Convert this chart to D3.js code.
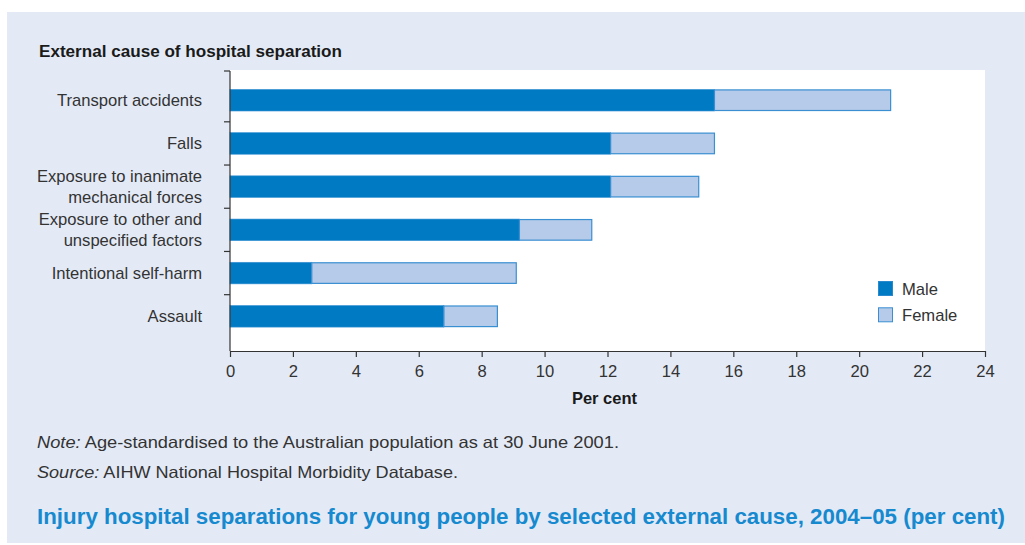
<!DOCTYPE html>
<html>
<head>
<meta charset="utf-8">
<script src="https://cdn.jsdelivr.net/npm/d3@7"></script>
<style>
  html, body { margin: 0; padding: 0; background: #ffffff; }
  svg { display: block; font-family: "Liberation Sans", Arial, Helvetica, sans-serif; }
</style>
</head>
<body>
<svg id="chart" width="1025" height="545"></svg>
<script>
// Injury hospital separations for young people, 2004–05 (per cent)
const causes = [
  ["Transport accidents"],
  ["Falls"],
  ["Exposure to inanimate", "mechanical forces"],
  ["Exposure to other and", "unspecified factors"],
  ["Intentional self-harm"],
  ["Assault"]
];
const male   = [15.4, 12.1, 12.1, 9.2, 2.6, 6.8];
const female = [5.6, 3.3, 2.8, 2.3, 6.5, 1.7];
const xTicks = [0, 2, 4, 6, 8, 10, 12, 14, 16, 18, 20, 22, 24];
const seriesNames = ["Male", "Female"];

const colors = { Male: "#007bc3", Female: "#b5cbe9" };
const femaleStroke = "#3a8fd2";
const textColor = "#333333";
const fs = 16.6;

const svg = d3.select("#chart");

// panel background
svg.append("rect").attr("x", 7).attr("y", 12).attr("width", 1018).attr("height", 531)
  .attr("fill", "#e3eaf6");

const plot = { left: 230, right: 985, top: 70, bottom: 351 };

// white plotting area
svg.append("rect")
  .attr("x", plot.left).attr("y", plot.top)
  .attr("width", plot.right - plot.left).attr("height", plot.bottom - plot.top)
  .attr("fill", "#ffffff");

const keys = causes.map(c => c.join(" "));
const x = d3.scaleLinear().domain([0, 24]).range([plot.left, plot.right]);
const y = d3.scaleBand().domain(keys).range([78.6, 337.9]).paddingInner(0.5).paddingOuter(0.25);

const rows = keys.map((k, i) => ({ key: k, lines: causes[i], male: male[i], female: female[i] }));

// bars
const g = svg.append("g");
g.selectAll("rect.male").data(rows).join("rect")
  .attr("class", "male")
  .attr("x", x(0))
  .attr("y", d => y(d.key))
  .attr("width", d => x(d.male) - x(0))
  .attr("height", y.bandwidth())
  .attr("fill", colors.Male)
  .attr("stroke", "#3d94d4")
  .attr("stroke-width", 0.6);

g.selectAll("rect.female").data(rows).join("rect")
  .attr("class", "female")
  .attr("x", d => x(d.male))
  .attr("y", d => y(d.key) + 0.5)
  .attr("width", d => x(d.male + d.female) - x(d.male))
  .attr("height", y.bandwidth() - 1)
  .attr("fill", colors.Female)
  .attr("stroke", femaleStroke)
  .attr("stroke-width", 1.2);

// x axis
const xAxis = svg.append("g")
  .attr("transform", `translate(0,${plot.bottom})`)
  .call(d3.axisBottom(x).tickValues(xTicks).tickFormat(d3.format("d")).tickSize(6).tickSizeOuter(0));
xAxis.select(".domain").attr("stroke", "#333").attr("stroke-width", 1.2);
xAxis.selectAll(".tick line").attr("stroke", "#333").attr("stroke-width", 1.2);
xAxis.selectAll(".tick text")
  .attr("y", 14).attr("dy", "0.71em")
  .attr("fill", textColor).attr("font-size", fs)
  .attr("font-family", "Liberation Sans, Arial, sans-serif");

// y axis line with boundary ticks between categories
const yAxisG = svg.append("g");
yAxisG.append("line")
  .attr("x1", plot.left).attr("x2", plot.left)
  .attr("y1", plot.top + 1).attr("y2", plot.bottom)
  .attr("stroke", "#333").attr("stroke-width", 1.2);
const step = y.step();
const boundaries = [plot.top + 1].concat(keys.slice(1).map(k => y(k) - (step - y.bandwidth()) / 2));
yAxisG.selectAll("line.tick").data(boundaries).join("line")
  .attr("class", "tick")
  .attr("x1", plot.left - 6).attr("x2", plot.left)
  .attr("y1", d => d).attr("y2", d => d)
  .attr("stroke", "#333").attr("stroke-width", 1.2);

// category labels
const labels = svg.append("g")
  .attr("font-size", fs).attr("fill", textColor).attr("text-anchor", "end");
rows.forEach(d => {
  const cy = y(d.key) + y.bandwidth() / 2;
  const n = d.lines.length;
  d.lines.forEach((line, j) => {
    labels.append("text")
      .attr("x", 202)
      .attr("y", cy + (j - (n - 1) / 2) * 21.5)
      .attr("dy", "0.35em")
      .text(line);
  });
});

// axis titles
svg.append("text")
  .attr("x", 39).attr("y", 51).attr("dy", "0.35em")
  .attr("font-size", 16).attr("font-weight", "bold").attr("fill", "#1a1a1a")
  .attr("textLength", 303).attr("lengthAdjust", "spacingAndGlyphs")
  .text("External cause of hospital separation");

svg.append("text")
  .attr("x", 604.5).attr("y", 398).attr("dy", "0.35em")
  .attr("text-anchor", "middle")
  .attr("font-size", 16.5).attr("font-weight", "bold").attr("fill", "#1a1a1a")
  .text("Per cent");

// legend
const legend = svg.append("g").attr("transform", "translate(878,281)");
seriesNames.forEach((name, i) => {
  const row = legend.append("g").attr("transform", `translate(0,${i * 26.3})`);
  row.append("rect")
    .attr("x", 0.5).attr("y", 0.5).attr("width", 14).attr("height", 14)
    .attr("fill", colors[name])
    .attr("stroke", name === "Female" ? femaleStroke : "#2a88cc")
    .attr("stroke-width", 1);
  row.append("text")
    .attr("x", 24).attr("y", 8).attr("dy", "0.35em")
    .attr("font-size", fs).attr("fill", textColor)
    .text(name);
});

// notes
const note = svg.append("text")
  .attr("x", 37).attr("y", 442).attr("dy", "0.35em")
  .attr("font-size", 16.5).attr("fill", textColor)
  .attr("textLength", 582).attr("lengthAdjust", "spacingAndGlyphs");
note.append("tspan").attr("font-style", "italic").text("Note:");
note.append("tspan").text(" Age-standardised to the Australian population as at 30 June 2001.");

const source = svg.append("text")
  .attr("x", 37).attr("y", 472).attr("dy", "0.35em")
  .attr("font-size", 16.5).attr("fill", textColor)
  .attr("textLength", 421).attr("lengthAdjust", "spacingAndGlyphs");
source.append("tspan").attr("font-style", "italic").text("Source:");
source.append("tspan").text(" AIHW National Hospital Morbidity Database.");

svg.append("text")
  .attr("x", 37).attr("y", 516).attr("dy", "0.35em")
  .attr("font-size", 22).attr("font-weight", "bold").attr("fill", "#1689cf")
  .attr("textLength", 968).attr("lengthAdjust", "spacingAndGlyphs")
  .text("Injury hospital separations for young people by selected external cause, 2004–05 (per cent)");
</script>
</body>
</html>
